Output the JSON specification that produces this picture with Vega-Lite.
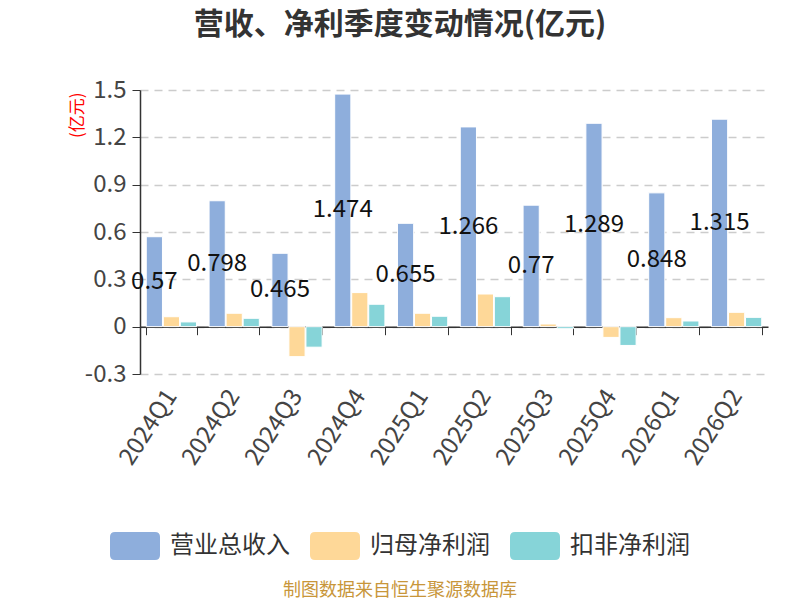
{
  "$schema": "https://vega.github.io/schema/vega-lite/v6.json",
  "width": 628,
  "height": 284,
  "autosize": {"type": "none"},
  "padding": {"left": 140, "top": 90, "right": 32, "bottom": 226},
  "background": "#ffffff",
  "title": {
    "text": "营收、净利季度变动情况(亿元)",
    "fontSize": 30,
    "fontWeight": "bold",
    "color": "#333333",
    "anchor": "middle",
    "frame": "group",
    "dx": -54,
    "offset": 38
  },
  "data": {
    "values": [
      {"quarter": "2024Q1", "type": "营业总收入", "value": 0.57},
      {"quarter": "2024Q1", "type": "归母净利润", "value": 0.063},
      {"quarter": "2024Q1", "type": "扣非净利润", "value": 0.03},
      {"quarter": "2024Q2", "type": "营业总收入", "value": 0.798},
      {"quarter": "2024Q2", "type": "归母净利润", "value": 0.085},
      {"quarter": "2024Q2", "type": "扣非净利润", "value": 0.053},
      {"quarter": "2024Q3", "type": "营业总收入", "value": 0.465},
      {"quarter": "2024Q3", "type": "归母净利润", "value": -0.19},
      {"quarter": "2024Q3", "type": "扣非净利润", "value": -0.13},
      {"quarter": "2024Q4", "type": "营业总收入", "value": 1.474},
      {"quarter": "2024Q4", "type": "归母净利润", "value": 0.216},
      {"quarter": "2024Q4", "type": "扣非净利润", "value": 0.142},
      {"quarter": "2025Q1", "type": "营业总收入", "value": 0.655},
      {"quarter": "2025Q1", "type": "归母净利润", "value": 0.085},
      {"quarter": "2025Q1", "type": "扣非净利润", "value": 0.066},
      {"quarter": "2025Q2", "type": "营业总收入", "value": 1.266},
      {"quarter": "2025Q2", "type": "归母净利润", "value": 0.207},
      {"quarter": "2025Q2", "type": "扣非净利润", "value": 0.19},
      {"quarter": "2025Q3", "type": "营业总收入", "value": 0.77},
      {"quarter": "2025Q3", "type": "归母净利润", "value": 0.017},
      {"quarter": "2025Q3", "type": "扣非净利润", "value": -0.013},
      {"quarter": "2025Q4", "type": "营业总收入", "value": 1.289},
      {"quarter": "2025Q4", "type": "归母净利润", "value": -0.068},
      {"quarter": "2025Q4", "type": "扣非净利润", "value": -0.119},
      {"quarter": "2026Q1", "type": "营业总收入", "value": 0.848},
      {"quarter": "2026Q1", "type": "归母净利润", "value": 0.057},
      {"quarter": "2026Q1", "type": "扣非净利润", "value": 0.036},
      {"quarter": "2026Q2", "type": "营业总收入", "value": 1.315},
      {"quarter": "2026Q2", "type": "归母净利润", "value": 0.091},
      {"quarter": "2026Q2", "type": "扣非净利润", "value": 0.059}
    ]
  },
  "encoding": {
    "x": {
      "field": "quarter",
      "type": "nominal",
      "sort": null,
      "scale": {"paddingInner": 0.2, "paddingOuter": 0.1},
      "axis": {
        "title": null,
        "offset": -47.3,
        "labelPadding": 57,
        "labelAngle": -57,
        "labelFontSize": 24,
        "labelColor": "#444444",
        "tickBand": "extent",
        "tickSize": 8,
        "tickColor": "#333333",
        "domainColor": "#333333",
        "domainWidth": 1.5,
        "grid": false
      }
    },
    "xOffset": {
      "field": "type",
      "type": "nominal",
      "scale": {"domain": ["营业总收入", "归母净利润", "扣非净利润"], "paddingInner": 0.05}
    }
  },
  "layer": [
    {
      "mark": {"type": "bar", "stroke": "#ffffff", "strokeWidth": 1},
      "encoding": {
        "y": {
          "field": "value",
          "type": "quantitative",
          "scale": {"domain": [-0.3, 1.5], "nice": false},
          "axis": {
            "values": [-0.3, 0, 0.3, 0.6, 0.9, 1.2, 1.5],
            "labelExpr": "datum.value == 0 ? '0' : '' + round(datum.value * 10) / 10",
            "title": "(亿元)",
            "titleColor": "#ff0000",
            "titleFontSize": 17,
            "titleFontWeight": "normal",
            "titleAngle": -90,
            "titleAlign": "right",
            "titleBaseline": "middle",
            "titleX": -63,
            "titleY": 2,
            "labelFontSize": 24,
            "labelColor": "#444444",
            "labelPadding": 6,
            "tickSize": 8,
            "tickColor": "#333333",
            "domainColor": "#333333",
            "domainWidth": 1.5,
            "grid": true,
            "gridColor": "#cccccc",
            "gridDash": [8, 6],
            "gridWidth": 1.5
          }
        },
        "color": {
          "field": "type",
          "type": "nominal",
          "scale": {
            "domain": ["营业总收入", "归母净利润", "扣非净利润"],
            "range": ["#8eaedc", "#fed898", "#86d4d8"]
          },
          "legend": {
            "orient": "none",
            "legendX": -30,
            "legendY": 431,
            "direction": "horizontal",
            "title": "制图数据来自恒生聚源数据库",
            "titleOrient": "bottom",
            "titleAnchor": "middle",
            "titleFontSize": 18,
            "titleFontWeight": "normal",
            "titleColor": "#c8963a",
            "titlePadding": 22,
            "titleLimit": 600,
            "symbolType": "M-0.8,-0.56 L0.8,-0.56 Q1,-0.56 1,-0.36 L1,0.36 Q1,0.56 0.8,0.56 L-0.8,0.56 Q-1,0.56 -1,0.36 L-1,-0.36 Q-1,-0.56 -0.8,-0.56 Z",
            "symbolSize": 2500,
            "symbolStrokeWidth": 0,
            "symbolOpacity": 1,
            "labelFontSize": 24,
            "labelColor": "#333333",
            "labelOffset": 10,
            "labelLimit": 300,
            "columnPadding": 20
          }
        }
      }
    },
    {
      "transform": [
        {"filter": "datum.type == '营业总收入'"},
        {"calculate": "datum.value / 2", "as": "mid"}
      ],
      "mark": {"type": "text", "fontSize": 24, "color": "#111111", "baseline": "middle", "align": "center"},
      "encoding": {
        "y": {"field": "mid", "type": "quantitative"},
        "text": {"field": "value", "type": "quantitative", "format": ""}
      }
    }
  ],
  "config": {
    "font": "Noto Sans CJK SC",
    "view": {"stroke": null}
  }
}
